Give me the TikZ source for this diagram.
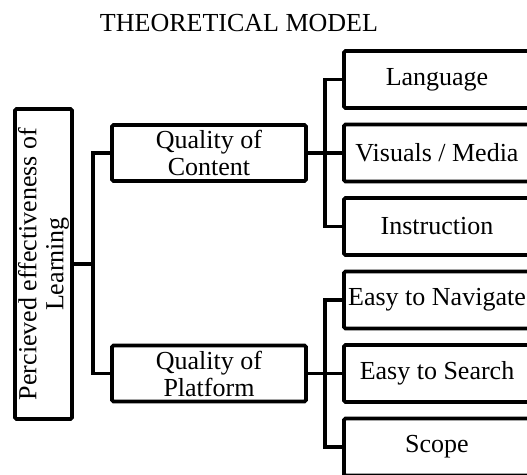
\documentclass[tikz,border=0pt]{standalone}
\usepackage{fontspec}
\setmainfont{Liberation Serif}
\usetikzlibrary{positioning, calc}

\begin{document}
\begin{tikzpicture}[
    x=1pt, y=-1pt,
    font=\fontsize{26}{27}\selectfont,
    box/.style={rectangle, draw, line width=3.8pt, rounded corners=1.5pt, outer sep=0pt, inner sep=1pt, align=center},
    main/.style={box, minimum width=194pt, minimum height=56pt},
    leaf/.style={box, minimum width=186pt, minimum height=57pt},
    link/.style={line width=3.8pt},
    node distance=16.5pt and 38pt
]

\useasboundingbox (0,0) rectangle (527,474);

% TITRE
\node[anchor=base] (title) at (239,31.7) {THEORETICAL MODEL};

% NIVEAU 1 (racine, texte vertical)
\node[box, rotate=90, minimum width=310pt, minimum height=57pt] (root) at (43.5,264) {Percieved effectiveness of\\Learning};

% NIVEAU 2
\node[main] (content) at (209,153) {Quality of\\Content};
\node[main] (platform) at (209,373.5) {Quality of\\Platform};

% NIVEAU 3 (feuilles)
\node[leaf, right=of content] (visuals) {Visuals / Media};
\node[leaf, above=of visuals] (language) {Language};
\node[leaf, below=of visuals] (instruction) {Instruction};

\node[leaf, right=of platform] (search) {Easy to Search};
\node[leaf, above=of search] (navigate) {Easy to Navigate};
\node[leaf, below=of search] (scope) {Scope};

% LIENS racine -> niveau 2
\coordinate (rootfork) at ($(root.south)!0.52!(root.south -| content.west)$);
\draw[link] (root.south) -- (rootfork);
\draw[link] (content.west) -| (rootfork) |- (platform.west);

% LIENS niveau 2 -> feuilles
\coordinate (contentfork) at ($(content.east)!0.5!(visuals.west)$);
\draw[link] (content.east) -- (visuals.west);
\draw[link] (language.west) -| (contentfork) |- (instruction.west);

\coordinate (platformfork) at ($(platform.east)!0.5!(search.west)$);
\draw[link] (platform.east) -- (search.west);
\draw[link] (navigate.west) -| (platformfork) |- (scope.west);

\end{tikzpicture}
\end{document}
